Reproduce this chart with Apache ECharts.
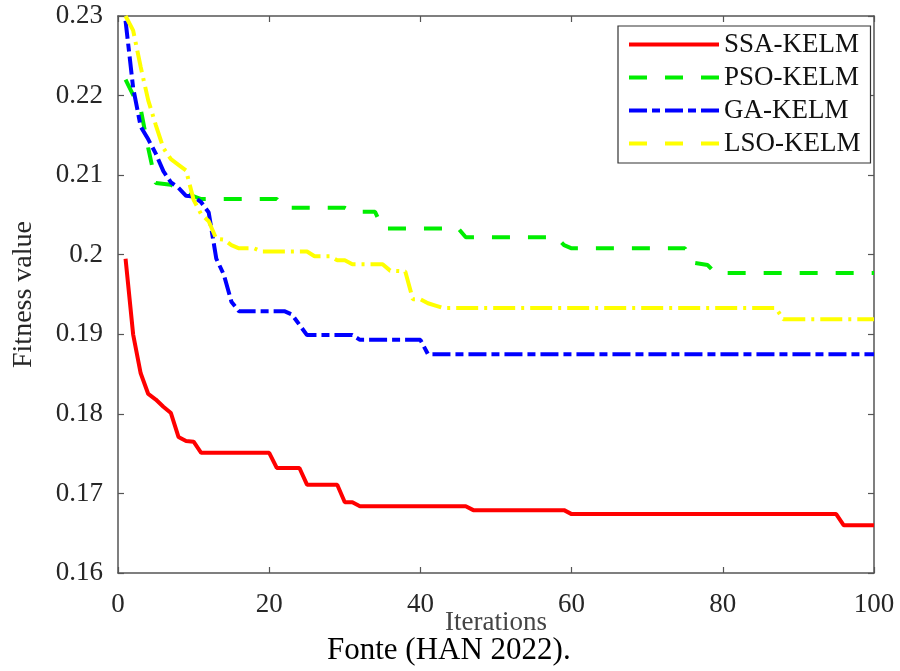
<!DOCTYPE html>
<html>
<head>
<meta charset="utf-8">
<script src="https://cdn.jsdelivr.net/npm/echarts@6/dist/echarts.min.js"></script>
<style>
  html, body { margin: 0; padding: 0; background: #fff; }
  #chart { width: 900px; height: 671px; }
</style>
</head>
<body>
<div id="chart"></div>
<script>
  // values: iteration -> best fitness, only where the curve bends
  const ssaIter = [1, 2, 3, 4, 5, 6, 7, 8, 9, 10, 11, 20, 21, 24, 25, 29, 30, 31, 32, 46, 47, 59, 60, 95, 96, 100];
  const ssaFit = [0.1995, 0.1900, 0.1851, 0.1825, 0.1818, 0.1809, 0.1801, 0.1771, 0.1766, 0.1765, 0.1751, 0.1751, 0.1732, 0.1732, 0.1711, 0.1711, 0.1689, 0.1689, 0.1684, 0.1684, 0.1679, 0.1679, 0.1674, 0.1674, 0.1660, 0.1660];

  const psoIter = [1, 2, 3, 4, 5, 7, 9, 11, 21, 22, 30, 31, 34, 35, 45, 46, 58, 59, 60, 75, 76, 78, 79, 100];
  const psoFit = [0.2220, 0.2201, 0.2183, 0.2134, 0.2090, 0.2088, 0.2077, 0.2070, 0.2070, 0.2059, 0.2059, 0.2054, 0.2054, 0.2033, 0.2033, 0.2022, 0.2022, 0.2012, 0.2008, 0.2008, 0.1990, 0.1987, 0.1977, 0.1977];

  const gaIter = [1, 2, 3, 4, 5, 6, 7, 8, 9, 10, 11, 12, 13, 14, 15, 16, 22, 23, 24, 25, 31, 32, 40, 41, 100];
  const gaFit = [0.2294, 0.2210, 0.2161, 0.2145, 0.2127, 0.2105, 0.2091, 0.2084, 0.2074, 0.2073, 0.2066, 0.2053, 0.1995, 0.1975, 0.1941, 0.1929, 0.1929, 0.1925, 0.1912, 0.1899, 0.1899, 0.1893, 0.1893, 0.1875, 0.1875];

  const lsoIter = [1, 2, 3, 4, 5, 6, 7, 8, 9, 10, 11, 12, 13, 14, 15, 16, 18, 19, 25, 26, 28, 29, 30, 31, 35, 36, 38, 39, 40, 41, 42, 43, 87, 88, 100];
  const lsoFit = [0.2300, 0.2282, 0.2236, 0.2194, 0.2163, 0.2134, 0.2120, 0.2113, 0.2106, 0.2069, 0.2051, 0.2042, 0.2020, 0.2019, 0.2012, 0.2008, 0.2008, 0.2004, 0.2004, 0.1998, 0.1998, 0.1993, 0.1993, 0.1988, 0.1988, 0.1980, 0.1979, 0.1944, 0.1944, 0.1939, 0.1936, 0.1933, 0.1933, 0.1919, 0.1919];

  const seriesNames = ["SSA-KELM", "PSO-KELM", "GA-KELM", "LSO-KELM"];

  const font = "'Liberation Serif', 'Times New Roman', serif";
  const axisColor = "#555";
  const textColor = "#262626";

  function pairs(xs, ys) {
    return xs.map((x, i) => [x, ys[i]]);
  }

  function frameAxis(extra) {
    return Object.assign({
      type: "value",
      axisLine: { show: true, onZero: false, lineStyle: { color: axisColor, width: 1.5 } },
      axisTick: { show: true, inside: true, length: 6, lineStyle: { color: axisColor, width: 1.2 } },
      splitLine: { show: false }
    }, extra);
  }

  function lineSeries(name, data, color, dash) {
    return {
      name: name,
      type: "line",
      xAxisIndex: 0,
      yAxisIndex: 0,
      data: data,
      symbol: "none",
      showSymbol: false,
      clip: true,
      lineStyle: { color: color, width: 4, type: dash, cap: "butt" },
      itemStyle: { color: color }
    };
  }

  const chart = echarts.init(document.getElementById("chart"));

  chart.setOption({
    animation: false,
    backgroundColor: "#fff",
    grid: { left: 118, right: 26, top: 16, bottom: 98 },
    xAxis: [
      frameAxis({
        min: 0, max: 100, interval: 20,
        position: "bottom",
        name: "Iterations",
        nameLocation: "middle",
        nameGap: 36,
        nameMoveOverlap: false,
        nameTextStyle: { fontFamily: font, fontSize: 27, color: "#444" },
        axisLabel: { fontFamily: font, fontSize: 27, color: textColor, margin: 18 }
      }),
      frameAxis({
        min: 0, max: 100, interval: 20,
        position: "top",
        axisLabel: { show: false }
      })
    ],
    yAxis: [
      frameAxis({
        min: 0.16, max: 0.23, interval: 0.01,
        position: "left",
        name: "Fitness value",
        nameLocation: "middle",
        nameGap: 80,
        nameMoveOverlap: false,
        nameTextStyle: { fontFamily: font, fontSize: 28, color: textColor },
        axisLabel: {
          fontFamily: font, fontSize: 27, color: textColor, margin: 15,
          formatter: v => String(parseFloat(v.toFixed(2)))
        }
      }),
      frameAxis({
        min: 0.16, max: 0.23, interval: 0.01,
        position: "right",
        axisLabel: { show: false }
      })
    ],
    legend: {
      orient: "vertical",
      left: 618,
      top: 26,
      padding: [5, 10, 6, 9],
      itemGap: 6,
      itemWidth: 90,
      itemHeight: 14,
      backgroundColor: "#fff",
      borderColor: "#333",
      borderWidth: 1.2,
      borderRadius: 0,
      itemStyle: { opacity: 0 },
      lineStyle: { width: 4, cap: "butt" },
      textStyle: { fontFamily: font, fontSize: 27, color: "#111", lineHeight: 27 },
      data: [
        { name: seriesNames[0] },
        { name: seriesNames[1] },
        { name: seriesNames[2] },
        { name: seriesNames[3], lineStyle: { width: 4, type: [18, 18] } }
      ]
    },
    graphic: [
      {
        type: "text",
        left: 327,
        top: 635,
        style: { text: "Fonte (HAN 2022).", fontFamily: font, fontSize: 31, fill: "#000" }
      }
    ],
    series: [
      lineSeries(seriesNames[0], pairs(ssaIter, ssaFit), "#ff0000", "solid"),
      lineSeries(seriesNames[1], pairs(psoIter, psoFit), "#00ee00", [18, 18]),
      lineSeries(seriesNames[2], pairs(gaIter, gaFit), "#0000ff", [18, 5, 8, 5]),
      lineSeries(seriesNames[3], pairs(lsoIter, lsoFit), "#ffff00", [22, 6, 3, 6])
    ]
  });
</script>
</body>
</html>
